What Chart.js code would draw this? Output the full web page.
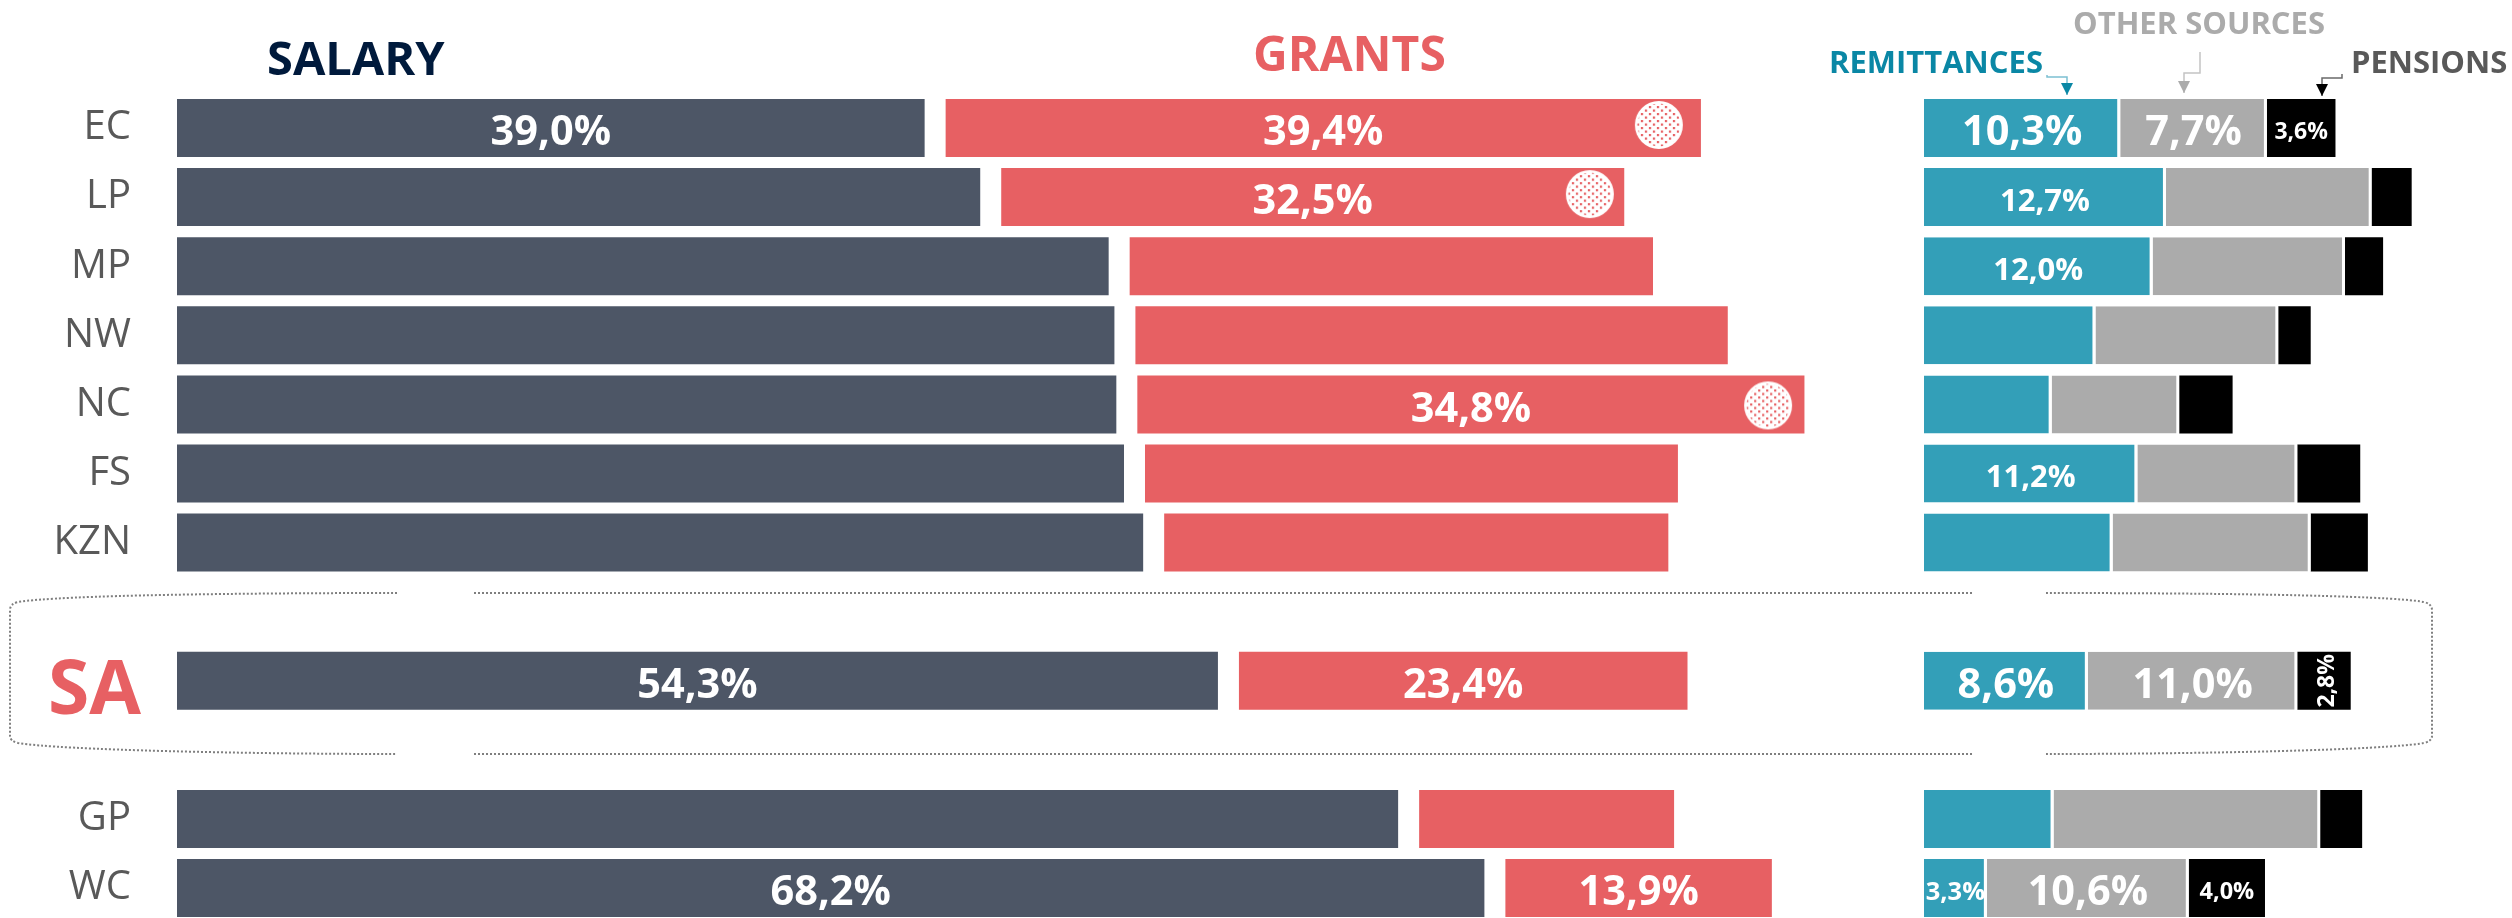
<!DOCTYPE html>
<html>
<head>
<meta charset="utf-8">
<style>html,body{margin:0;padding:0;background:#fff;overflow:hidden;height:918px}#wrap{width:2512px;height:918px;overflow:hidden}canvas{display:block}</style>
<script src="https://cdn.jsdelivr.net/npm/chart.js@4"></script>
</head>
<body>
<div id="wrap"><canvas id="c" width="2512" height="923"></canvas></div>
<script>
const categories = ['EC','LP','MP','NW','NC','FS','KZN','','SA','','GP','WC'];
const salary      = [39.0,41.9,48.6,48.9,49.0,49.4,50.4,null,54.3,null,63.7,68.2];
const grants      = [39.4,32.5,27.3,30.9,34.8,27.8,26.3,null,23.4,null,13.3,13.9];
const remittances = [10.3,12.7,12.0, 9.0, 6.7,11.2, 9.9,null, 8.6,null, 6.8, 3.3];
const otherSources= [ 7.7,10.8,10.1, 9.6, 6.7, 8.4,10.4,null,11.0,null,14.0,10.6];
const pensions    = [ 3.6, 2.1, 2.0, 1.7, 2.8, 3.3, 3.0,null, 2.8,null, 2.2, 4.0];

const salaryLabels = ['39,0%',null,null,null,null,null,null,null,'54,3%',null,null,'68,2%'];
const grantLabels  = ['39,4%','32,5%',null,null,'34,8%',null,null,null,'23,4%',null,null,'13,9%'];
const remitLabels  = ['10,3%','12,7%','12,0%',null,null,'11,2%',null,null,'8,6%',null,null,'3,3%'];
const otherLabels  = ['7,7%',null,null,null,null,null,null,null,'11,0%',null,null,'10,6%'];
const pensionLabels= ['3,6%',null,null,null,null,null,null,null,'2,8%',null,null,'4,0%'];

/* highest-share markers on the grants bars */
const highlightPoints = [{x:77.3,y:'EC'},{x:73.7,y:'LP'},{x:83.0,y:'NC'}];

const C = {salary:'#4d5666',grants:'#e76063',remit:'#339fb8',other:'#ababab',pension:'#000000',
           axis:'#595959',navy:'#001a3c',remitText:'#0a87a5'};
const FONT = '"Open Sans", sans-serif';
const PX = 19.17, PXR = 19.05, LEFT = 177, W = 2512, RIGHT0 = 1924, GAP = 21;

function marker(dy){
  const p = document.createElement('canvas'); p.width = 50; p.height = 58;
  const g = p.getContext('2d');
  const cy = 29+dy;
  g.fillStyle='#fff'; g.beginPath(); g.arc(25,cy,24,0,Math.PI*2); g.fill();
  g.save(); g.beginPath(); g.arc(25,cy,21.5,0,Math.PI*2); g.clip();
  g.fillStyle=C.grants;
  for(let r=0;r<18;r++) for(let c=0;c<14;c++){
    g.fillRect(c*8-1+(r%2?4:0), r*3.5, 2.2, 2.2);
  }
  g.restore();
  return p;
}

function arrow(ctx, pts, color, lineColor){
  ctx.save();
  ctx.strokeStyle = lineColor; ctx.lineWidth = 1.5; ctx.beginPath();
  pts.forEach((p,i)=> i ? ctx.lineTo(p[0],p[1]) : ctx.moveTo(p[0],p[1]));
  ctx.stroke();
  const t = pts[pts.length-1];
  ctx.fillStyle = color; ctx.beginPath();
  ctx.moveTo(t[0]-6,t[1]-12); ctx.lineTo(t[0]+6,t[1]-12); ctx.lineTo(t[0],t[1]); ctx.closePath(); ctx.fill();
  ctx.restore();
}

const annotations = {
  id:'annotations',
  afterDatasetsDraw(chart){
    const ctx = chart.ctx;
    chart.data.datasets.forEach((ds,di)=>{
      if(!ds.valueLabels) return;
      const meta = chart.getDatasetMeta(di);
      ds.valueLabels.forEach((t,i)=>{
        if(!t) return;
        const el = meta.data[i];
        const size = (ds.labelSizes && ds.labelSizes[t]) || 41.5;
        const cx = (el.x + el.base)/2, cy = el.y;
        ctx.save();
        ctx.fillStyle = '#fff';
        ctx.font = `700 ${size}px ${FONT}`;
        ctx.textBaseline = 'alphabetic';
        ctx.textAlign = 'center';
        if(ds.rotated && ds.rotated.includes(t)){
          ctx.translate(cx+2,cy); ctx.rotate(-Math.PI/2);
          ctx.fillText(t,0,size*0.36);
        } else {
          ctx.fillText(t,cx,cy+size*0.357+2.5);
        }
        ctx.restore();
      });
    });
    const head = (t,x,y,size,color,align)=>{
      ctx.save(); ctx.font = `700 ${size}px ${FONT}`; ctx.fillStyle = color;
      ctx.textAlign = align||'left'; ctx.textBaseline='alphabetic'; ctx.fillText(t,x,y); ctx.restore();
    };
    head('SALARY',267,75,47,C.navy);
    head('GRANTS',1253,71,48,C.grants);
    head('REMITTANCES',1829,73,31,C.remitText);
    head('OTHER SOURCES',2073,34,31,C.other);
    head('PENSIONS',2351,73,31,C.axis);
    const sy = chart.scales.y.getPixelForValue(8);
    head('SA',141,sy+33,75,C.grants,'right');
    arrow(ctx,[[2047,75],[2047,77],[2067,77],[2067,95]],C.remitText,'#7cc0d2');
    arrow(ctx,[[2200,52],[2200,73],[2184,73],[2184,93]],C.other,'#c4c4c4');
    arrow(ctx,[[2342,74],[2342,78],[2322,78],[2322,96]],'#000','#6a6a6a');
    ctx.save();
    ctx.strokeStyle='#7f7f7f'; ctx.lineWidth=2; ctx.setLineDash([2,2]);
    const T=593,B=754,L=10,R=2432;
    ctx.beginPath();
    ctx.moveTo(397,T); ctx.bezierCurveTo(250,T,60,595,18,602); ctx.quadraticCurveTo(L,604,L,610);
    ctx.lineTo(L,736); ctx.quadraticCurveTo(L,741,18,743); ctx.bezierCurveTo(60,750,250,B,397,B);
    ctx.moveTo(474,T); ctx.lineTo(1973,T);
    ctx.moveTo(474,B); ctx.lineTo(1973,B);
    ctx.moveTo(2046,T); ctx.bezierCurveTo(2200,T,2385,595,2424,602); ctx.quadraticCurveTo(R,604,R,610);
    ctx.lineTo(R,736); ctx.quadraticCurveTo(R,741,2424,743); ctx.bezierCurveTo(2385,750,2200,B,2046,B);
    ctx.stroke();
    ctx.restore();
  }
};

const hidden = {display:false, grid:{display:false}};
const bigSizes = {'12,7%':31,'12,0%':31,'11,2%':31};
new Chart(document.getElementById('c'),{
  data:{
    labels:categories,
    datasets:[
      {type:'scatter',data:highlightPoints,xAxisID:'x',yAxisID:'y',
       pointStyle:[marker(-3),marker(-3),marker(1)],pointRadius:24,pointHoverRadius:24,showLine:false},
      {type:'bar',label:'Salary',data:salary,xAxisID:'x',yAxisID:'y',backgroundColor:C.salary,valueLabels:salaryLabels},
      {type:'bar',label:'Grants',data:grants.map((g,i)=> g===null?null:[salary[i],salary[i]+g]),xAxisID:'xg',yAxisID:'y',
       backgroundColor:C.grants,valueLabels:grantLabels},
      {type:'bar',label:'Remittances',data:remittances,xAxisID:'xr',yAxisID:'y',backgroundColor:C.remit,
       borderColor:'#fff',borderWidth:{right:3},borderSkipped:false,valueLabels:remitLabels,labelSizes:{...bigSizes,'3,3%':25.5}},
      {type:'bar',label:'Other sources',data:otherSources,xAxisID:'xr',yAxisID:'y',backgroundColor:C.other,
       borderColor:'#fff',borderWidth:{right:3},borderSkipped:false,valueLabels:otherLabels},
      {type:'bar',label:'Pensions',data:pensions,xAxisID:'xr',yAxisID:'y',backgroundColor:C.pension,
       valueLabels:pensionLabels,labelSizes:{'3,6%':23,'2,8%':23,'4,0%':23.5},rotated:['2,8%']}
    ]
  },
  options:{
    indexAxis:'y',responsive:false,animation:false,devicePixelRatio:1,
    barPercentage:0.84,categoryPercentage:1,
    layout:{autoPadding:false,padding:{top:93.45,bottom:0.35,left:0,right:0}},
    plugins:{legend:{display:false},tooltip:{enabled:false},title:{display:false}},
    events:[],
    scales:{
      y:{type:'category',stacked:true,offset:true,position:'left',grid:{display:false,drawTicks:false},border:{display:false},
         afterFit(s){s.width=LEFT;s.paddingTop=0;s.paddingBottom=0;},
         ticks:{autoSkip:false,padding:46,color:C.axis,font:{family:FONT,size:40,weight:'400'},
                callback(v){const l=this.getLabelForValue(v);return l==='SA'?'':l;}}},
      x:{type:'linear',min:0,max:(W-LEFT)/PX,position:'bottom',...hidden},
      xg:{type:'linear',min:-GAP/PX,max:(W-LEFT-GAP)/PX,position:'bottom',...hidden},
      xr:{type:'linear',stacked:true,min:-(RIGHT0-LEFT)/PXR,max:(W-RIGHT0)/PXR,position:'bottom',...hidden}
    }
  },
  plugins:[annotations]
});
</script>
</body>
</html>
